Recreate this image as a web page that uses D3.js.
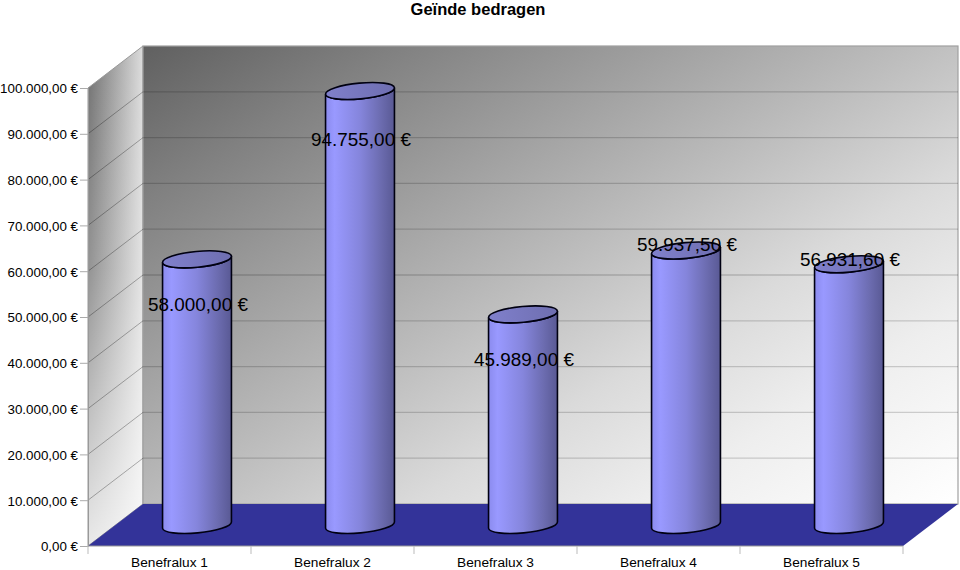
<!DOCTYPE html>
<html><head><meta charset="utf-8">
<script src="https://cdn.jsdelivr.net/npm/d3@7"></script>
<style>html,body{margin:0;background:#fff}svg{display:block}text{font-family:"Liberation Sans",Arial,sans-serif;fill:#000}</style>
</head><body><svg id="c" width="960" height="570"></svg>
<script>
const categories = ["Benefralux 1","Benefralux 2","Benefralux 3","Benefralux 4","Benefralux 5"];
const values = [58000, 94755, 45989, 59937.5, 56931.6];
const yTicks = [0,10000,20000,30000,40000,50000,60000,70000,80000,90000,100000];
const titleText = "Geïnde bedragen";

const svg = d3.select("#c");
const W = {l:88, r:903, b:546, t:88}, D = {x:55, y:-42};
const x = d3.scaleBand().domain(categories).range([W.l, W.r]);
const y = d3.scaleLinear().domain([0,100000]).range([W.b, W.t]);
const fmt = d3.formatLocale({decimal:",",thousands:".",grouping:[3],currency:["","\u00a0€"]}).format("$,.2f");

const defs = svg.append("defs");
function grad(id, stops, c, user){
  const g = defs.append("linearGradient").attr("id",id).attr("x1",c[0]).attr("y1",c[1]).attr("x2",c[2]).attr("y2",c[3]);
  if(user) g.attr("gradientUnits","userSpaceOnUse");
  stops.forEach(s=>g.append("stop").attr("offset",s[0]).attr("stop-color",s[1]).attr("stop-opacity",s[2]===undefined?1:s[2]));
}
// back wall shading runs diagonally across the wall, perpendicular to its iso-lines
const wallW = W.r-W.l, wallH = W.b-W.t, gx0 = .52/wallW, gy0 = .48/wallH, gn = gx0*gx0+gy0*gy0;
grad("wall",[[0,"#606060"],[.16,"#808080"],[.5,"#bebebe"],[.65,"#dadada"],[.8,"#eeeeee"],[1,"#ffffff"]],
  [W.l+D.x, W.t+D.y, W.l+D.x+gx0/gn, W.t+D.y+gy0/gn], true);
grad("side",[[0,"#6f6f6f"],[1,"#dcdcdc"]],[0,0,1,0]);
grad("sideFade",[[0,"#fff",0],[.45,"#fff",.25],[1,"#fff",.85]],[0,0,0,1]);
grad("cyl",[[0,"#8b8bee"],[.13,"#9999ff"],[.5,"#8585dc"],[.8,"#6c6cb0"],[1,"#595994"]],[0,0,1,0]);
grad("cap",[[0,"#8080cc"],[1,"#6e6eb0"]],[0,0,1,0]);

const P = pts => pts.map(p=>p.join(",")).join(" ");
// side wall
const sidePts = P([[W.l,W.t],[W.l+D.x,W.t+D.y],[W.l+D.x,W.b+D.y],[W.l,W.b]]);
svg.append("polygon").attr("points",sidePts).attr("fill","url(#side)");
svg.append("polygon").attr("points",sidePts).attr("fill","url(#sideFade)").attr("stroke","#999").attr("stroke-width",1);
// back wall
svg.append("rect").attr("x",W.l+D.x).attr("y",W.t+D.y).attr("width",wallW).attr("height",wallH)
  .attr("fill","url(#wall)").attr("stroke","#a0a0a0").attr("stroke-width",1.2);
// gridlines
const grid = svg.append("g");
yTicks.filter(t=>t>0&&t<100000).forEach(t=>{
  grid.append("line").attr("x1",W.l).attr("y1",y(t)).attr("x2",W.l+D.x).attr("y2",y(t)+D.y)
    .attr("stroke","#000").attr("stroke-opacity",.3);
  grid.append("line").attr("x1",W.l+D.x).attr("y1",y(t)+D.y).attr("x2",W.r+D.x).attr("y2",y(t)+D.y)
    .attr("stroke","#000").attr("stroke-opacity",.17).attr("stroke-width",1.3);
});
// floor
svg.append("polygon").attr("points",P([[W.l,W.b],[W.l+D.x,W.b+D.y],[W.r+D.x,W.b+D.y],[W.r,W.b]])).attr("fill","#333399");
// axes
const yAxis = d3.axisLeft(y).tickValues(yTicks).tickFormat(fmt).tickSize(8).tickPadding(2);
const gy = svg.append("g").attr("transform",`translate(${W.l},0)`).call(yAxis);
const xAxis = d3.axisBottom(x).tickSize(0).tickPadding(10);
const gx = svg.append("g").attr("transform",`translate(0,${W.b})`).call(xAxis);
[gy,gx].forEach(g=>{
  g.selectAll("path").attr("stroke","#999").attr("fill","none");
  g.selectAll(".tick line").attr("stroke","#aaa");
  g.selectAll("text").attr("font-family",'"Liberation Sans",Arial,sans-serif').attr("fill","#000");
});
gy.selectAll("text").attr("font-size",13.35).attr("dy","0.36em");
gx.selectAll("text").attr("font-size",13.7);
gx.select("path").attr("d",`M${W.l},0H${W.r}`);
gx.selectAll(".tick text").attr("dy","0.8em");
d3.range(categories.length+1).forEach(i=>{
  const tx = W.l + i*x.bandwidth();
  gx.append("line").attr("x1",tx).attr("x2",tx).attr("y1",0).attr("y2",8).attr("stroke","#bbb");
});
// cylinders: end caps are slightly tilted ellipses, as in the source's perspective
const rx = 34.6, ry = 7.9, tilt = -5.4, rad = tilt*Math.PI/180;
const ex = rx*Math.cos(rad), ey = rx*Math.sin(rad);
const cx = d => x(d)+x.bandwidth()/2+D.x/2, baseShift = D.y/2;
const cylG = svg.append("g");
categories.forEach((c,i)=>{
  const X = cx(c), yb = y(0)+baseShift, yt = y(values[i])+baseShift;
  const L = [X-ex, -ey], R = [X+ex, ey];
  cylG.append("path")
    .attr("d",`M${L[0]},${yt+L[1]}L${L[0]},${yb+L[1]}A${rx},${ry} ${tilt} 0 0 ${R[0]},${yb+R[1]}L${R[0]},${yt+R[1]}A${rx},${ry} ${tilt} 0 1 ${L[0]},${yt+L[1]}Z`)
    .attr("fill","url(#cyl)").attr("stroke","#000011").attr("stroke-width",1.6);
  cylG.append("ellipse").attr("rx",rx).attr("ry",ry)
    .attr("transform",`translate(${X},${yt}) rotate(${tilt})`)
    .attr("fill","url(#cap)").attr("stroke","#000011").attr("stroke-width",1.6);
});
// data labels (placed as in the source chart, relative to each cylinder top)
const labelDrop = [47, 50, 47, -4, -3];
categories.forEach((c,i)=>{
  svg.append("text").attr("x",cx(c)+1).attr("y",y(values[i])+baseShift+labelDrop[i])
    .attr("text-anchor","middle").attr("dominant-baseline","middle").attr("font-size",18.9).text(fmt(values[i]));
});
// title
svg.append("text").attr("x",478).attr("y",15).attr("text-anchor","middle").attr("font-size",16.5).attr("font-weight","bold").text(titleText);
</script></body></html>
